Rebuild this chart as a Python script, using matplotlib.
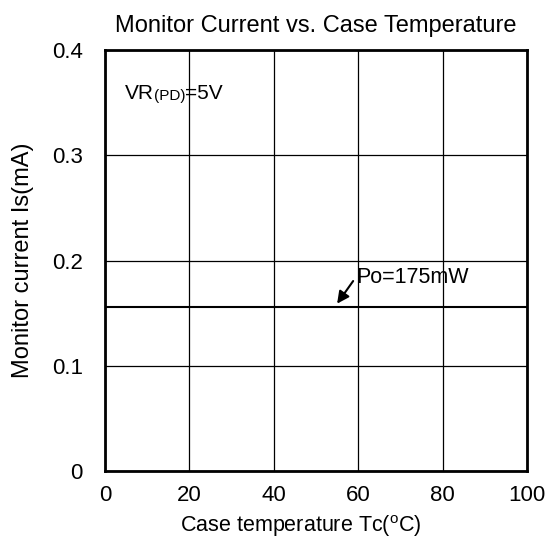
import numpy as np
import matplotlib
matplotlib.use("Agg")
import matplotlib.pyplot as plt

plt.rcParams['font.family'] = ['Liberation Sans', 'DejaVu Sans']
plt.rcParams['mathtext.fontset'] = 'custom'
plt.rcParams['mathtext.rm'] = 'Liberation Sans'

# data
tc = [0, 100]
i_s = [0.156, 0.156]
x_ticks = [0, 20, 40, 60, 80, 100]
y_ticks = [0, 0.1, 0.2, 0.3, 0.4]
y_labels = ["0", "0.1", "0.2", "0.3", "0.4"]

fig = plt.figure(figsize=(5.6, 5.49), dpi=100)
ax = fig.add_axes([0.1875, 0.142, 0.7536, 0.767])

ax.plot(tc, i_s, color="black", lw=1.5)

ax.set_xlim(0, 100)
ax.set_ylim(0, 0.4)
ax.set_xticks(x_ticks)
ax.set_yticks(y_ticks)
ax.set_yticklabels(y_labels)
ax.tick_params(length=0, labelsize=16)
ax.tick_params(axis='x', pad=10)
ax.tick_params(axis='y', pad=16)
ax.grid(True, color="black", lw=0.9)
for s in ax.spines.values():
    s.set_linewidth(2)
    s.set_zorder(5)

ax.set_title("Monitor Current vs. Case Temperature", fontsize=17, pad=13)
ax.set_xlabel("Case temperature Tc($^{\\mathrm{o}}$C)", fontsize=15.5, labelpad=5)
ax.xaxis.label.set_x(0.464)
ax.set_ylabel("Monitor current Is(mA)", fontsize=17, labelpad=13)

# VR(PD)=5V label
t1 = ax.text(4.7, 0.3534, "VR", fontsize=15, va="baseline")
t2 = ax.annotate("(PD)", xy=(1, 0), xycoords=t1, fontsize=11, va="bottom")
ax.annotate("=5V", xy=(1, 0), xycoords=t2, fontsize=15, va="bottom")

# curve label with arrow
ax.text(59.5, 0.1786, "Po=175mW", fontsize=15.5, va="baseline", ha="left")
ax.annotate("", xy=(55.0, 0.159), xytext=(58.8, 0.1805),
            arrowprops=dict(arrowstyle="-|>", color="black", lw=1.5,
                            mutation_scale=18, shrinkA=0, shrinkB=0))

fig.savefig("out.png", dpi=100)
